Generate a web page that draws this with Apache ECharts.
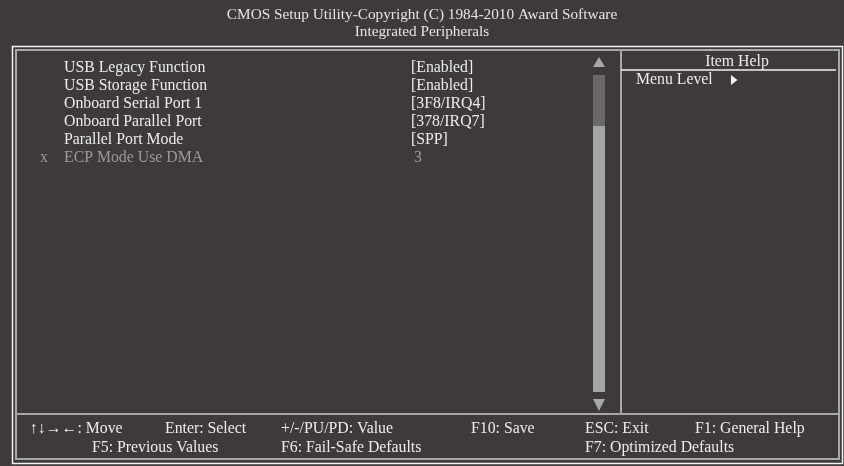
<!DOCTYPE html>
<html><head><meta charset="utf-8">
<script src="https://cdn.jsdelivr.net/npm/echarts@6/dist/echarts.min.js"></script>
<style>html,body{margin:0;padding:0;background:#3d3a39;}#c{width:844px;height:466px;}</style>
</head><body><div id="c"></div>
<script>
const titleLines = ['CMOS Setup Utility-Copyright (C) 1984-2010 Award Software', 'Integrated Peripherals'];
const itemNames = ['USB Legacy Function', 'USB Storage Function', 'Onboard Serial Port 1', 'Onboard Parallel Port', 'Parallel Port Mode', 'ECP Mode Use DMA'];
const itemValues = ['[Enabled]', '[Enabled]', '[3F8/IRQ4]', '[378/IRQ7]', '[SPP]', '3'];
const itemDisabled = [false, false, false, false, false, true];
const helpTitle = 'Item Help';
const helpText = 'Menu Level';
const footerRow1 = ['\u2191\u2193\u2192\u2190: Move', 'Enter: Select', '+/-/PU/PD: Value', 'F10: Save', 'ESC: Exit', 'F1: General Help'];
const footerRow2 = ['F5: Previous Values', 'F6: Fail-Safe Defaults', 'F7: Optimized Defaults'];

const FONT = '"Liberation Serif", "Times New Roman", serif';
const TXT = '#ececec';
const GREY_TXT = '#9c9a99';
const LINE = '#a8a8a8';

const g = [];
function text(x, y, s, color, align, size) {
  g.push({type: 'text', x: x, y: y, style: {text: s, fill: color || TXT, font: (size || 15.8) + 'px ' + FONT, textAlign: align || 'left', textVerticalAlign: 'middle'}});
}
// frames
g.push({type: 'rect', shape: {x: 12.5, y: 46.5, width: 830, height: 417}, style: {fill: 'none', stroke: '#f2f2f2', lineWidth: 1.5}});
g.push({type: 'rect', shape: {x: 16, y: 50, width: 823, height: 409}, style: {fill: 'none', stroke: LINE, lineWidth: 2}});
g.push({type: 'line', shape: {x1: 16, y1: 414, x2: 839, y2: 414}, style: {stroke: LINE, lineWidth: 2}});
g.push({type: 'line', shape: {x1: 621, y1: 50, x2: 621, y2: 414}, style: {stroke: LINE, lineWidth: 2}});
g.push({type: 'line', shape: {x1: 621, y1: 70, x2: 836, y2: 70}, style: {stroke: '#f2f2f2', lineWidth: 1.5}});
// scrollbar
g.push({type: 'polygon', shape: {points: [[599, 57], [605, 67], [593, 67]]}, style: {fill: '#a8a8a8'}});
g.push({type: 'rect', shape: {x: 593, y: 75, width: 12, height: 51}, style: {fill: '#6a6868'}});
g.push({type: 'rect', shape: {x: 593, y: 126, width: 12, height: 266}, style: {fill: '#a5a5a5'}});
g.push({type: 'polygon', shape: {points: [[593, 399], [605, 399], [599, 411]]}, style: {fill: '#a8a8a8'}});
// title
titleLines.forEach((s, i) => text(422, 15 + i * 17, s, '#e4e4e4', 'center', 15.3));
// items
itemNames.forEach((s, i) => {
  const y = 67.5 + i * 18;
  const dis = itemDisabled[i];
  if (dis) text(40, y, 'x', GREY_TXT);
  text(64, y, s, dis ? GREY_TXT : TXT);
  text(dis ? 414 : 411, y, itemValues[i], dis ? GREY_TXT : TXT);
});
// help
text(737, 61.5, helpTitle, TXT, 'center');
text(636, 80, helpText, TXT);
g.push({type: 'polygon', shape: {points: [[731, 75], [737.5, 80], [731, 85]]}, style: {fill: '#f2f2f2'}});
// footer
const f1x = [30, 165, 281, 471, 585, 695];
footerRow1.forEach((s, i) => text(f1x[i], 429, s));
const f2x = [92, 281, 585];
footerRow2.forEach((s, i) => text(f2x[i], 448, s));

const chart = echarts.init(document.getElementById('c'), null, {renderer: 'canvas'});
chart.setOption({backgroundColor: '#3d3a39', animation: false, graphic: {elements: g}});
</script>
</body></html>
